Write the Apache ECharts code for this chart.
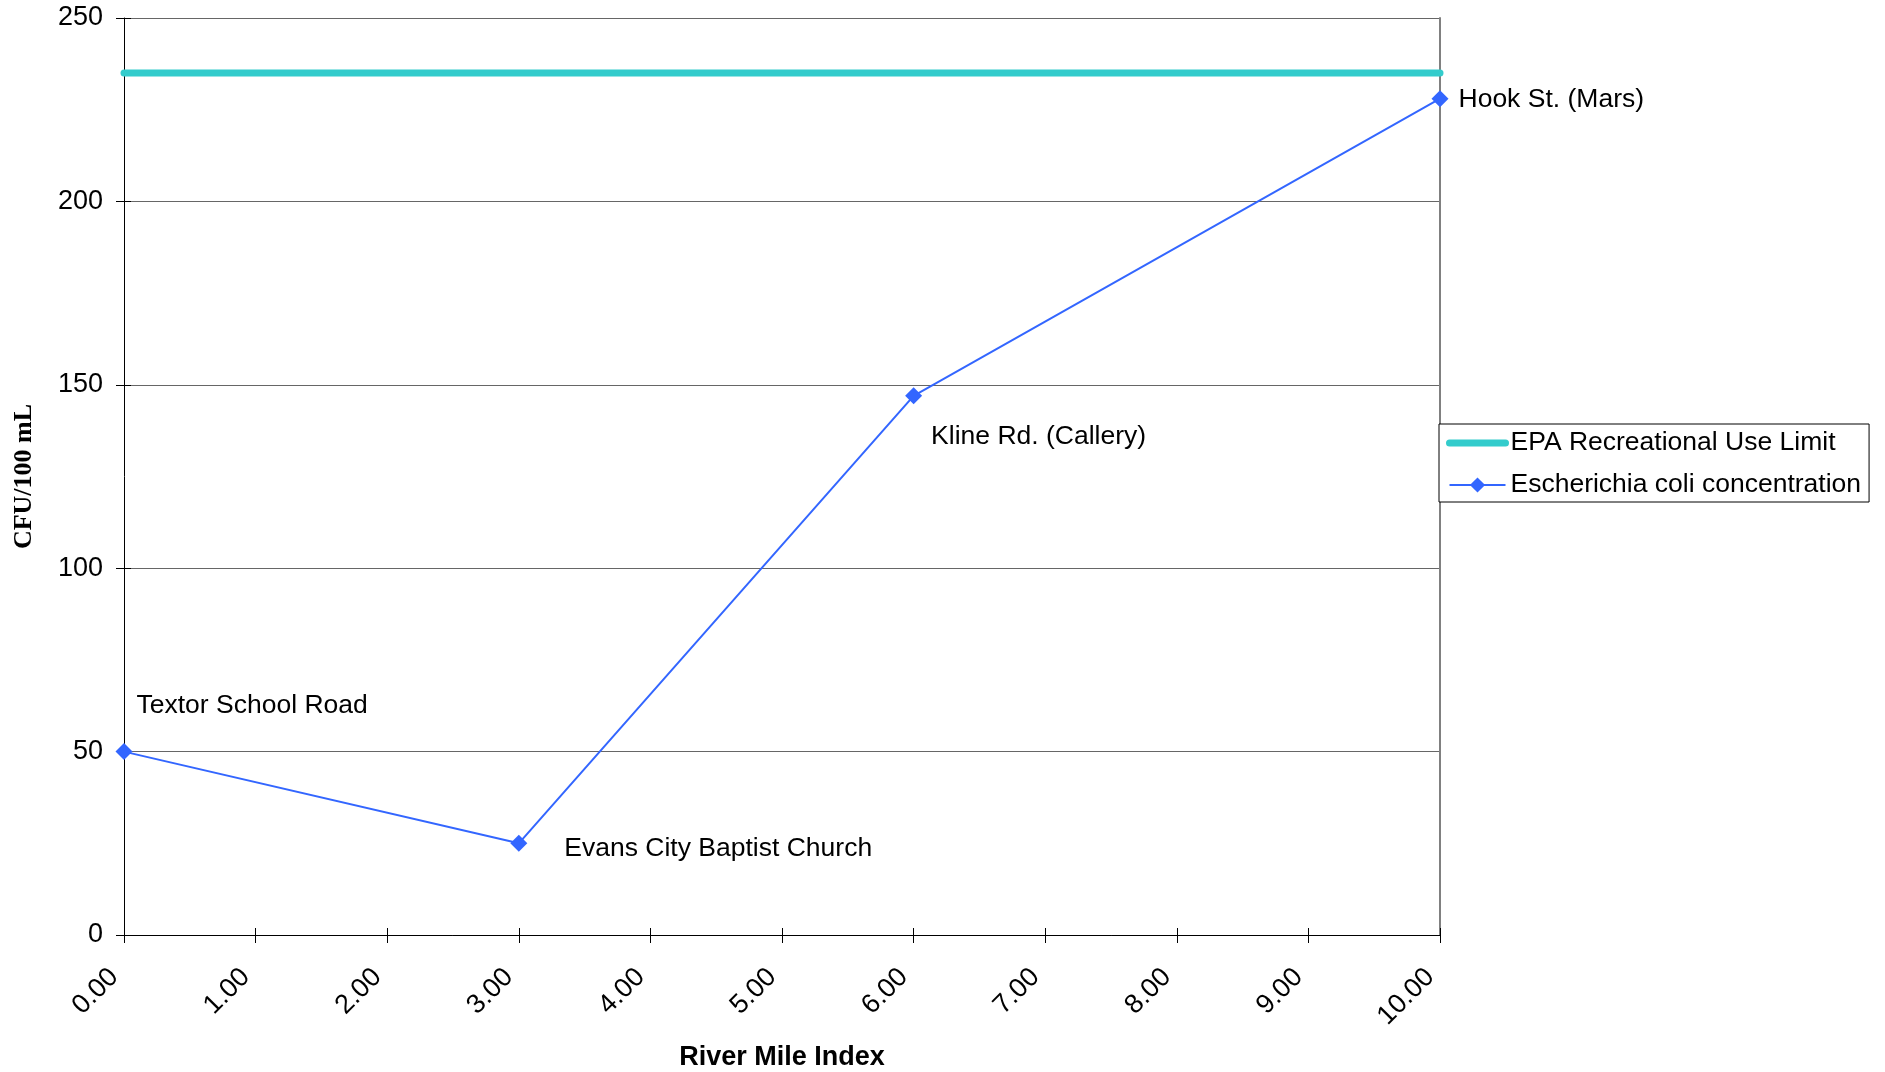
<!DOCTYPE html>
<html>
<head>
<meta charset="utf-8">
<title>E. coli along the river</title>
<script src="https://cdn.jsdelivr.net/npm/echarts@6/dist/echarts.min.js"></script>
<style>
  html, body { margin: 0; padding: 0; background: #fff; }
  #chart { width: 1885px; height: 1072px; }
</style>
</head>
<body>
<div id="chart"></div>
<script>
// Sampling stations: river mile, E. coli result (CFU/100 mL), station name
const riverMiles = [0, 3, 6, 10];
const ecoliValues = [50, 25, 147, 228];
const stationNames = ['Textor School Road', 'Evans City Baptist Church', 'Kline Rd. (Callery)', 'Hook St. (Mars)'];

// EPA recreational use limit, drawn across the whole mile range
const limitMiles = [0, 10];
const limitValues = [235, 235];

// Axis ranges
const xRange = [0, 10, 1];
const yRange = [0, 250, 50];

// Per-station label nudges [dx, dy]
const labelOffsets = [[4, -46], [37, 5], [9, 41], [10, 1]];

const FONT = "'Liberation Sans', Arial, sans-serif";
const FS = 27;      // axis text
const FS_TXT = 26.5; // point labels and legend
const BLUE = '#3366FF';
const CYAN = '#33CCCC';

const ecoliData = riverMiles.map((m, i) => ({
  value: [m, ecoliValues[i]],
  name: stationNames[i],
  label: { offset: labelOffsets[i] }
}));
const limitData = limitMiles.map((m, i) => [m, limitValues[i]]);

const chart = echarts.init(document.getElementById('chart'), null, { renderer: 'canvas' });

const baseX = { type: 'value', min: xRange[0], max: xRange[1], interval: xRange[2], position: 'bottom' };
const baseY = { type: 'value', min: yRange[0], max: yRange[1], interval: yRange[2], position: 'left' };

chart.setOption({
  backgroundColor: '#ffffff',
  animation: false,
  grid: { left: 124, top: 18, right: 445, bottom: 137, show: false, containLabel: false, outerBoundsMode: 'none' },
  legend: {
    orient: 'vertical',
    left: 1439,
    top: 424,
    padding: [4, 8, 2, 7],
    itemGap: 12,
    itemWidth: 56,
    itemHeight: 19,
    borderColor: '#000',
    borderWidth: 1,
    backgroundColor: '#fff',
    textStyle: { fontSize: FS_TXT, lineHeight: 30, color: '#000', fontFamily: FONT },
    data: [
      { name: 'EPA Recreational Use Limit', itemStyle: { opacity: 0 }, lineStyle: { width: 7, color: CYAN, cap: 'round' } },
      { name: 'Escherichia coli concentration', lineStyle: { width: 2, color: BLUE } }
    ]
  },
  xAxis: [
    Object.assign({}, baseX, {
      name: 'River Mile Index',
      nameLocation: 'middle',
      nameGap: 123,
      nameTextStyle: { fontSize: FS, fontWeight: 'bold', color: '#000', fontFamily: FONT, verticalAlign: 'middle' },
      axisLine: { show: true, lineStyle: { color: '#000', width: 1 } },
      axisTick: { show: true, inside: false, length: 8, lineStyle: { color: '#000' } },
      axisLabel: {
        rotate: 45, margin: 28, padding: [0, 14, 0, 0],
        fontSize: FS, color: '#000', fontFamily: FONT,
        formatter: v => v.toFixed(2)
      },
      splitLine: { show: false }
    }),
    // inner half of the crossing tick marks
    Object.assign({}, baseX, {
      axisLine: { show: false },
      axisTick: { show: true, inside: true, length: 7, lineStyle: { color: '#000' } },
      axisLabel: { show: false },
      splitLine: { show: false }
    })
  ],
  yAxis: [
    Object.assign({}, baseY, {
      name: 'CFU/100 mL',
      nameLocation: 'middle',
      nameGap: 100,
      nameTextStyle: { fontSize: 26, fontWeight: 'bold', color: '#000', fontFamily: "'Liberation Serif', 'Times New Roman', serif", verticalAlign: 'middle' },
      axisLine: { show: true, lineStyle: { color: '#000', width: 1 } },
      axisTick: { show: true, inside: false, length: 8, lineStyle: { color: '#000' } },
      axisLabel: { margin: 21, fontSize: FS, color: '#000', fontFamily: FONT },
      splitLine: { show: true, lineStyle: { color: '#666', width: 1 } }
    }),
    Object.assign({}, baseY, {
      axisLine: { show: false },
      axisTick: { show: true, inside: true, length: 7, lineStyle: { color: '#000' } },
      axisLabel: { show: false },
      splitLine: { show: false }
    }),
    // plot-area frame on the right
    Object.assign({}, baseY, {
      position: 'right',
      axisLine: { show: true, lineStyle: { color: '#808080', width: 2 } },
      axisTick: { show: false },
      axisLabel: { show: false },
      splitLine: { show: false }
    })
  ],
  series: [
    {
      name: 'EPA Recreational Use Limit',
      type: 'line',
      xAxisIndex: 0,
      yAxisIndex: 0,
      data: limitData,
      symbol: 'none',
      lineStyle: { color: CYAN, width: 7, cap: 'round' },
      itemStyle: { color: CYAN },
      z: 3
    },
    {
      name: 'Escherichia coli concentration',
      type: 'line',
      xAxisIndex: 0,
      yAxisIndex: 0,
      data: ecoliData,
      symbol: 'diamond',
      symbolSize: 17,
      lineStyle: { color: BLUE, width: 2 },
      itemStyle: { color: BLUE },
      label: {
        show: true,
        position: 'right',
        distance: 0,
        fontSize: FS_TXT,
        color: '#000',
        fontFamily: FONT,
        formatter: p => p.name
      },
      z: 4
    }
  ]
});
</script>
</body>
</html>
